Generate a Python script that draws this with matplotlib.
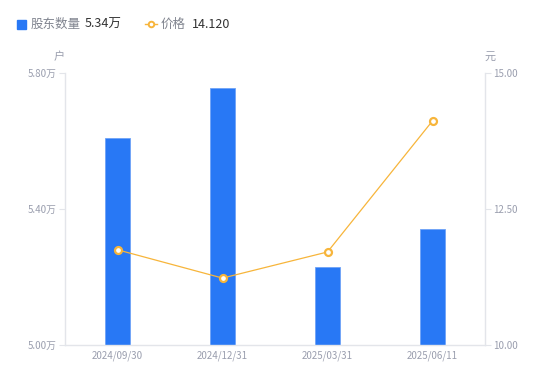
import matplotlib.pyplot as plt
from matplotlib.lines import Line2D
from matplotlib.patches import Rectangle

plt.rcParams['font.family'] = ['Noto Sans CJK SC', 'DejaVu Sans']

# data
dates = ['2024/09/30', '2024/12/31', '2025/03/31', '2025/06/11']
holders = [5.61, 5.756, 5.229, 5.34]   # 万户
price = [11.75, 11.23, 11.71, 14.12]    # 元
left_ticks = [5.00, 5.40, 5.80]
right_ticks = [10.00, 12.50, 15.00]

blue = '#2878f5'
orange = '#f7b53b'
gray_txt = '#9a9eae'
axis_col = '#e3e5ea'

fig = plt.figure(figsize=(5.5, 3.81), dpi=100)
ax = fig.add_axes([65 / 550, 36 / 381, 420 / 550, 272 / 381])
x = list(range(len(dates)))

ax.bar(x, holders, width=0.24, color=blue, edgecolor='#6ea3f7', linewidth=0.6, zorder=2)
ax.set_xlim(-0.5, 3.5)
ax.set_ylim(5.0, 5.8)
ax.set_yticks(left_ticks)
ax.set_yticklabels([f'{v:.2f}万' for v in left_ticks])
ax.set_xticks(x)
ax.set_xticklabels(dates)

ax2 = ax.twinx()
ax2.plot(x, price, color=orange, linewidth=0.9, marker='o', markersize=5,
         markerfacecolor='white', markeredgecolor=orange, markeredgewidth=1.6, zorder=3)
ax2.set_ylim(10, 15)
ax2.set_yticks(right_ticks)
ax2.set_yticklabels([f'{v:.2f}' for v in right_ticks])

for a in (ax, ax2):
    for s in a.spines.values():
        s.set_visible(False)
ax.spines['left'].set_visible(True)
ax.spines['bottom'].set_visible(True)
ax2.spines['right'].set_visible(True)
for s in (ax.spines['left'], ax.spines['bottom'], ax2.spines['right']):
    s.set_color(axis_col)
    s.set_linewidth(1)

ax.tick_params(axis='y', colors=axis_col, labelcolor=gray_txt, labelsize=7, length=4, pad=2)
ax.tick_params(axis='x', length=0, labelcolor=gray_txt, labelsize=7, pad=4)
ax2.tick_params(axis='y', colors=axis_col, labelcolor=gray_txt, labelsize=7, length=4, pad=2)

# unit labels
fig.text(59 / 550, 1 - 57 / 381, '户', color=gray_txt, fontsize=8, ha='center', va='center')
fig.text(490 / 550, 1 - 57 / 381, '元', color=gray_txt, fontsize=8, ha='center', va='center')

# custom legend row
ly = 1 - 24 / 381
fig.patches.append(Rectangle((17 / 550, ly - 4.5 / 381), 9 / 550, 9 / 381,
                             transform=fig.transFigure, color=blue, figure=fig))
fig.text(31 / 550, ly, '股东数量', color='#80848f', fontsize=9, va='center')
fig.text(85 / 550, ly, f'{holders[-1]:.2f}万', color='#333333', fontsize=9, va='center')
fig.lines.append(Line2D([145 / 550, 151 / 550, 157 / 550], [ly, ly, ly],
                        transform=fig.transFigure, color=orange, linewidth=1,
                        marker='o', markersize=4, markevery=[1],
                        markerfacecolor='white', markeredgecolor=orange,
                        markeredgewidth=1.4))
fig.text(161 / 550, ly, '价格', color='#80848f', fontsize=9, va='center')
fig.text(192 / 550, ly, f'{price[-1]:.3f}', color='#333333', fontsize=9, va='center')

fig.savefig('out.png', dpi=100)
